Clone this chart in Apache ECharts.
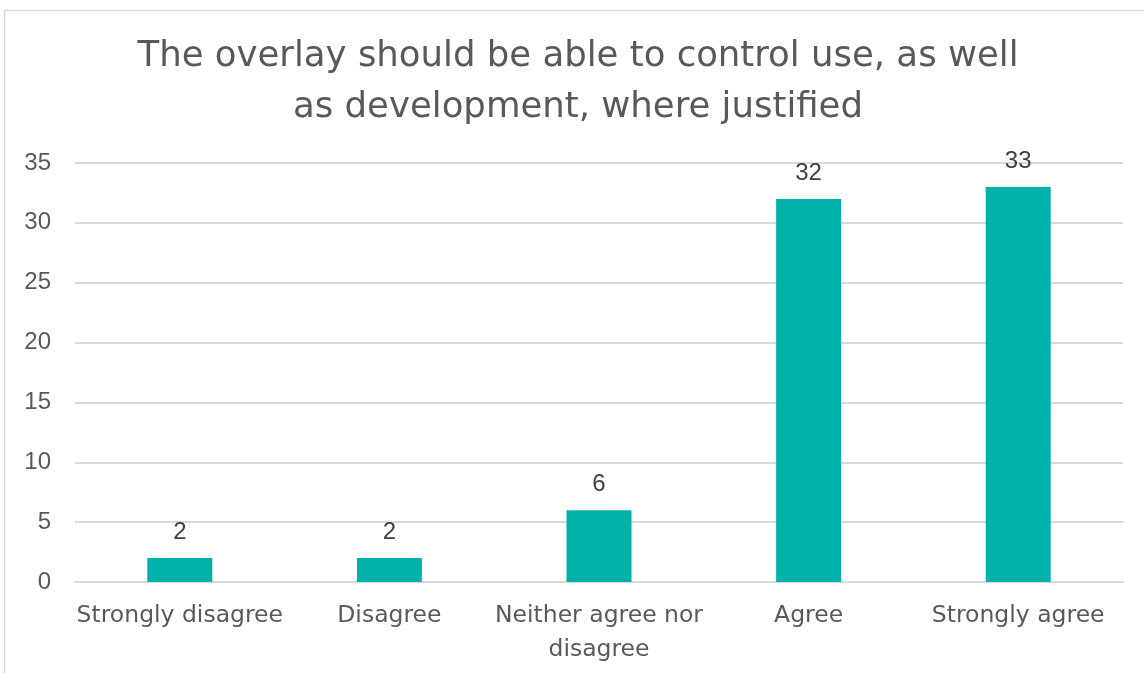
<!DOCTYPE html>
<html>
<head>
<meta charset="utf-8">
<script src="https://cdn.jsdelivr.net/npm/echarts@6/dist/echarts.min.js"></script>
<style>
  html, body { margin: 0; padding: 0; background: #ffffff; }
  #chart { width: 1144px; height: 673px; }
</style>
</head>
<body>
<div id="chart"></div>
<script>
// Survey responses per agreement level
const titleText = 'The overlay should be able to control use, as well\nas development, where justified';
const categories = ['Strongly disagree', 'Disagree', 'Neither agree nor\ndisagree', 'Agree', 'Strongly agree'];
const responses = [2, 2, 6, 32, 33];
const yTicks = { min: 0, max: 35, interval: 5 };

const chart = echarts.init(document.getElementById('chart'), null, { renderer: 'canvas' });

chart.setOption({
  backgroundColor: '#ffffff',
  animation: false,
  graphic: [{
    type: 'rect',
    shape: { x: 4.5, y: 10.5, width: 1300, height: 800 },
    style: { fill: 'none', stroke: '#d9d9d9', lineWidth: 1.5 },
    silent: true
  }],
  title: {
    text: titleText,
    left: 573,
    top: 26,
    textAlign: 'center',
    textStyle: {
      fontFamily: 'DejaVu Sans',
      fontWeight: 'normal',
      fontSize: 35.5,
      lineHeight: 51,
      color: '#595959'
    }
  },
  grid: { left: 75, right: 21, top: 163, bottom: 91, containLabel: false },
  xAxis: {
    type: 'category',
    data: categories,
    axisTick: { show: false },
    axisLine: { lineStyle: { color: '#d9d9d9', width: 2 } },
    axisLabel: {
      interval: 0,
      margin: 17,
      fontFamily: 'DejaVu Sans',
      fontSize: 23.5,
      lineHeight: 34,
      color: '#595959'
    }
  },
  yAxis: {
    type: 'value',
    min: yTicks.min,
    max: yTicks.max,
    interval: yTicks.interval,
    axisLine: { show: false },
    axisTick: { show: false },
    splitLine: { lineStyle: { color: '#d9d9d9', width: 2 } },
    axisLabel: {
      margin: 24,
      fontFamily: 'Liberation Sans',
      fontSize: 24,
      color: '#595959'
    }
  },
  series: [{
    type: 'bar',
    data: responses,
    barWidth: '31%',
    itemStyle: { color: '#00b2a9' },
    label: {
      show: true,
      position: 'top',
      distance: 14,
      fontFamily: 'Liberation Sans',
      fontSize: 24,
      color: '#404040'
    }
  }]
});
</script>
</body>
</html>
